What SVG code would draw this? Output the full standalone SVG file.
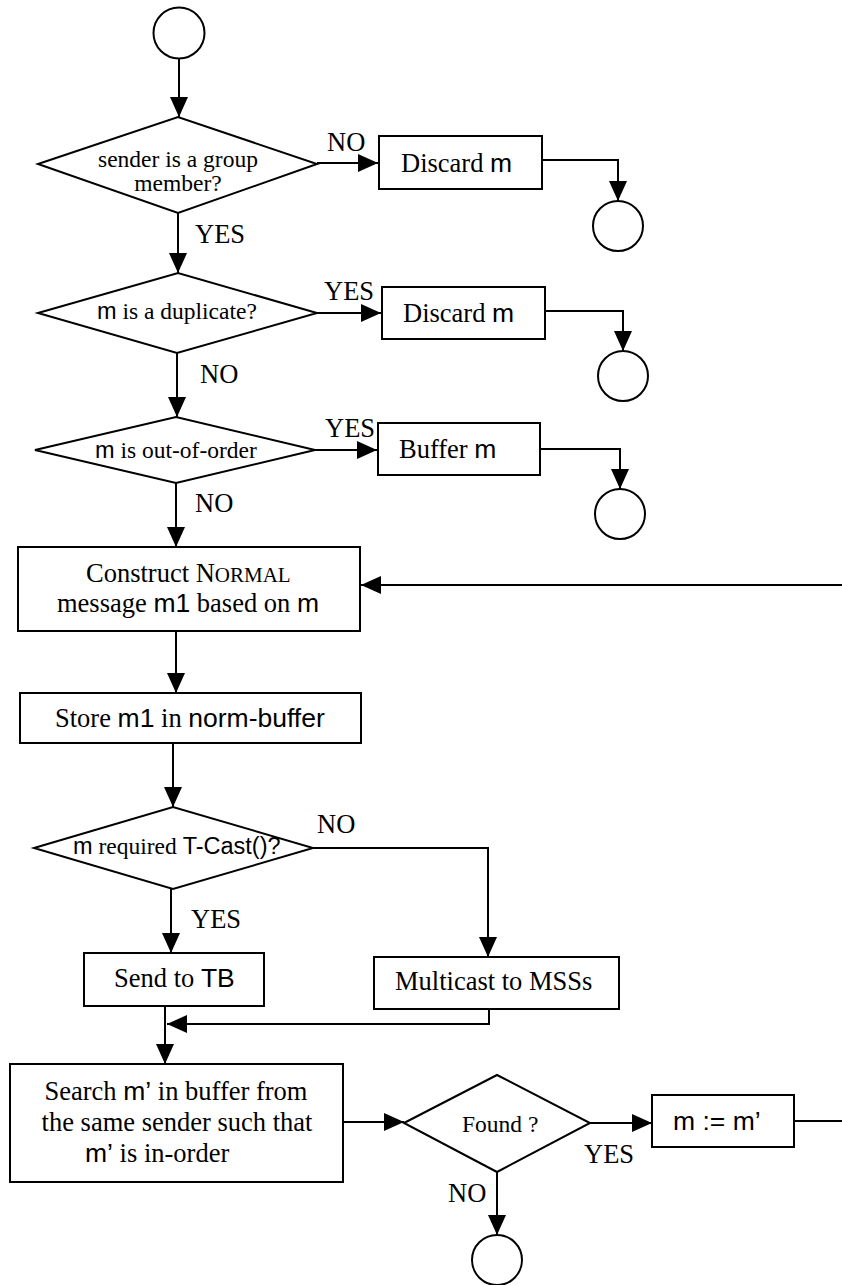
<svg xmlns="http://www.w3.org/2000/svg" width="842" height="1285" viewBox="0 0 842 1285">
<style>
.shape{fill:#fff;stroke:#000;stroke-width:2}
.conn{fill:none;stroke:#000;stroke-width:2}
.t{font-family:"Liberation Serif","Times New Roman",serif;fill:#000}
.b{font-size:26.5px}
.d{font-size:23.5px}
.s{font-family:"Liberation Sans",Arial,sans-serif}
</style>
<defs>
<marker id="ah" markerUnits="userSpaceOnUse" markerWidth="20" markerHeight="18" refX="20" refY="9" orient="auto" viewBox="0 0 20 18">
<path d="M0,0 L20,9 L0,18 z" fill="#000"/>
</marker>
</defs>
<rect width="842" height="1285" fill="#fff"/>
<g id="connectors" class="conn">
<path d="M179,59 V117" marker-end="url(#ah)"/>
<path d="M178,213 V273" marker-end="url(#ah)"/>
<path d="M317,163 H378" marker-end="url(#ah)"/>
<path d="M542,160 H618 V201" marker-end="url(#ah)"/>
<path d="M177,353 V417" marker-end="url(#ah)"/>
<path d="M317,313 H381" marker-end="url(#ah)"/>
<path d="M545,311 H623 V351" marker-end="url(#ah)"/>
<path d="M176,483 V547" marker-end="url(#ah)"/>
<path d="M315,450 H377" marker-end="url(#ah)"/>
<path d="M540,449 H620 V489" marker-end="url(#ah)"/>
<path d="M842,585 H361" marker-end="url(#ah)"/>
<path d="M176,631 V693" marker-end="url(#ah)"/>
<path d="M173,743 V807" marker-end="url(#ah)"/>
<path d="M171,889 V953" marker-end="url(#ah)"/>
<path d="M313,848 H488 V957" marker-end="url(#ah)"/>
<path d="M165,1006 V1064" marker-end="url(#ah)"/>
<path d="M489,1009 V1024 H167" marker-end="url(#ah)"/>
<path d="M343,1122 H404" marker-end="url(#ah)"/>
<path d="M590,1123 H652" marker-end="url(#ah)"/>
<path d="M794,1121 H842"/>
<path d="M497,1172 V1235" marker-end="url(#ah)"/>
</g>
<g id="labels" class="t b">
<text x="327" y="151">NO</text>
<text x="195" y="243">YES</text>
<text x="324" y="300">YES</text>
<text x="200" y="383">NO</text>
<text x="325" y="437">YES</text>
<text x="195" y="512">NO</text>
<text x="317" y="833">NO</text>
<text x="191" y="928">YES</text>
<text x="584" y="1163">YES</text>
<text x="448" y="1202">NO</text>
</g>
<g id="start">
<circle class="shape" cx="179" cy="33" r="25.5"/>
</g>
<g id="d1">
<polygon class="shape" points="38,164 178,117 317,164 178,213"/>
<text class="t d" x="178" y="167" text-anchor="middle">sender is a group</text>
<text class="t d" x="178" y="191" text-anchor="middle">member?</text>
</g>
<g id="box1">
<rect class="shape" x="379" y="136" width="163" height="53"/>
<text class="t b" x="401" y="172">Discard <tspan class="s">m</tspan></text>
</g>
<g id="end1">
<circle class="shape" cx="618" cy="226" r="25"/>
</g>
<g id="d2">
<polygon class="shape" points="38,313 178,273 317,313 177,353"/>
<text class="t d" x="97" y="319"><tspan class="s">m</tspan> is a duplicate?</text>
</g>
<g id="box2">
<rect class="shape" x="382" y="287" width="163" height="52"/>
<text class="t b" x="403" y="322">Discard <tspan class="s">m</tspan></text>
</g>
<g id="end2">
<circle class="shape" cx="623" cy="376" r="25"/>
</g>
<g id="d3">
<polygon class="shape" points="35,450 176,417 315,450 176,483"/>
<text class="t d" x="95" y="458"><tspan class="s">m</tspan> is out-of-order</text>
</g>
<g id="box3">
<rect class="shape" x="378" y="423" width="162" height="52"/>
<text class="t b" x="399" y="458">Buffer <tspan class="s">m</tspan></text>
</g>
<g id="end3">
<circle class="shape" cx="620" cy="514" r="25"/>
</g>
<g id="box4">
<rect class="shape" x="18" y="547" width="342" height="84"/>
<text class="t b" x="86" y="582">Construct N<tspan font-size="21">ORMAL</tspan></text>
<text class="t b" x="57" y="612">message <tspan class="s">m1</tspan> based on <tspan class="s">m</tspan></text>
</g>
<g id="box5">
<rect class="shape" x="20" y="693" width="341" height="50"/>
<text class="t b" x="55" y="727">Store <tspan class="s">m1</tspan> in <tspan class="s">norm-buffer</tspan></text>
</g>
<g id="d4">
<polygon class="shape" points="34,848 173,807 313,848 173,889"/>
<text class="t d" x="73" y="854"><tspan class="s">m</tspan> required <tspan class="s">T-Cast()?</tspan></text>
</g>
<g id="box6">
<rect class="shape" x="84" y="953" width="180" height="53"/>
<text class="t b" x="114" y="987">Send to <tspan class="s">TB</tspan></text>
</g>
<g id="box7">
<rect class="shape" x="374" y="957" width="245" height="52"/>
<text class="t b" x="395" y="990">Multicast to MSSs</text>
</g>
<g id="box8">
<rect class="shape" x="10" y="1064" width="333" height="118"/>
<text class="t b" x="176" y="1100" text-anchor="middle">Search <tspan class="s">m&#8217;</tspan> in buffer from</text>
<text class="t b" x="177" y="1131" text-anchor="middle">the same sender such that</text>
<text class="t b" x="85" y="1162"><tspan class="s">m&#8217;</tspan> is in-order</text>
</g>
<g id="d5">
<polygon class="shape" points="404,1123 497,1075 590,1123 497,1172"/>
<text class="t d" x="462" y="1132">Found ?</text>
</g>
<g id="box9">
<rect class="shape" x="652" y="1095" width="142" height="52"/>
<text class="s b" x="673" y="1130">m := m&#8217;</text>
</g>
<g id="end4">
<circle class="shape" cx="497" cy="1260" r="25"/>
</g>
</svg>
